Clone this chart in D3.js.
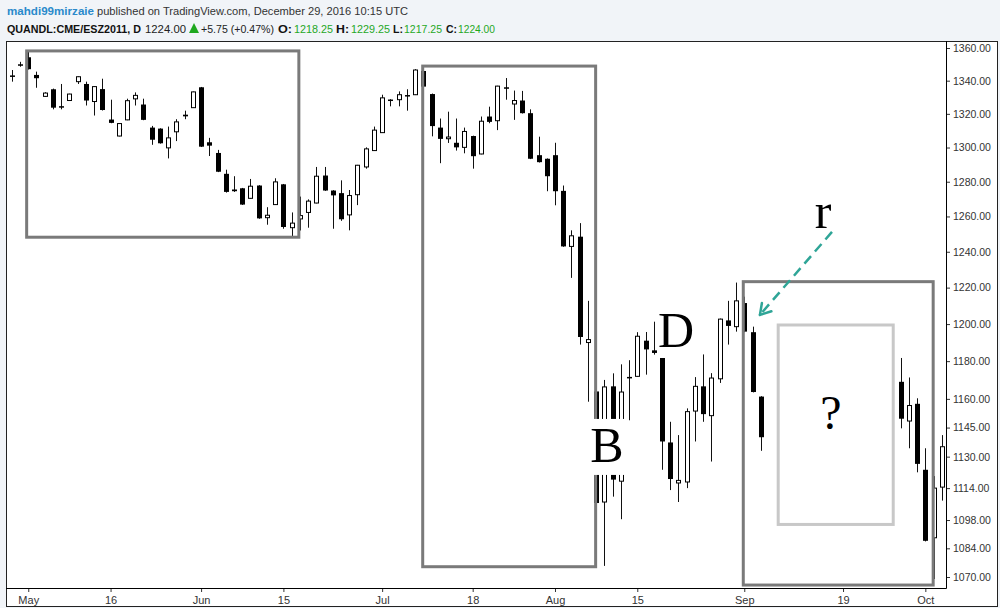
<!DOCTYPE html>
<html>
<head>
<meta charset="utf-8">
<script src="https://cdn.jsdelivr.net/npm/d3@7"></script>
<style>
body { margin: 0; background: #f1f4f8; }
svg { display: block; }
</style>
</head>
<body>
<svg id="chart" width="1000" height="608"></svg>
<script>
// trading sessions shown (2011), one per candle slot
var days = [
    "04-28", "04-29",
    "05-02", "05-03", "05-04", "05-05", "05-06", "05-09", "05-10", "05-11", "05-12", "05-13",
    "05-16", "05-17", "05-18", "05-19", "05-20", "05-23", "05-24", "05-25", "05-26", "05-27", "05-31",
    "06-01", "06-02", "06-03", "06-06", "06-07", "06-08", "06-09", "06-10", "06-13", "06-14", "06-15",
    "06-16", "06-17", "06-20", "06-21", "06-22", "06-23", "06-24", "06-27", "06-28", "06-29", "06-30",
    "07-01", "07-04", "07-05", "07-06", "07-07", "07-08", "07-11", "07-12", "07-13", "07-14", "07-15",
    "07-18", "07-19", "07-20", "07-21", "07-22", "07-25", "07-26", "07-27", "07-28", "07-29",
    "08-01", "08-02", "08-03", "08-04", "08-05", "08-08", "08-09", "08-10", "08-11", "08-12",
    "08-15", "08-16", "08-17", "08-18", "08-19", "08-22", "08-23", "08-24", "08-25", "08-26",
    "08-29", "08-30", "08-31",
    "09-01", "09-02", "09-05", "09-06", "09-07", "09-08", "09-09", "09-12", "09-13", "09-14",
    "09-15", "09-16", "09-19", "09-20", "09-21", "09-22", "09-23", "09-26", "09-27", "09-28",
    "09-29", "09-30",
    "10-03", "10-04", "10-05"
];

// OHLC per session, null where the candle is hidden on the chart
var opens = [
    1343.2, 1350.0, 1354.3, 1343.5, 1330.5, 1334.8, 1324.6, 1328.0, 1339.4, 1338.0,
    1327.4, 1334.9, 1316.6, 1306.8, 1316.4, 1329.0, 1325.6, 1311.8, 1311.2, 1299.8,
    1309.3, 1318.8, 1323.7, 1336.0, 1303.1, 1296.8, 1284.6, 1275.5, 1276.2, 1270.4,
    1277.8, 1259.3, 1266.8, 1278.5, 1253.6, 1258.6, 1262.3, 1267.7, 1283.6, 1274.9,
    1273.4, 1260.9, 1272.5, 1288.6, 1298.2, 1308.8, 1328.6, 1328.5, 1331.3, 1331.5,
    1345.9, 1331.9, 1311.8, 1305.2, 1302.8, 1300.1, 1306.8, 1296.2, 1318.4, 1315.9,
    1336.0, 1325.9, 1328.0, 1320.4, 1295.5, 1293.4, 1295.5, 1274.7, 1243.0, 1248.5,
    1190.0, 1163.9, 1107.0, 1166.6, 1117.5, 1171.6, 1171.9, 1191.0, 1185.8, 1184.4,
    1137.3, 1116.6, 1117.1, 1153.6, 1166.6, 1151.2, 1170.6, 1202.0, 1198.6, 1211.5,
    1195.6, 1161.2, null, null, null, null, null, null, null, null,
    null, null, null, null, null, null, null, null, 1169.0, 1148.4,
    1157.4, 1123.3, 1089.2, 1114.5
];
var highs = [
    1346.5, 1351.5, 1357.7, 1345.5, 1333.0, 1335.2, 1338.0, 1332.1, 1342.6, 1339.4,
    1336.6, 1341.2, 1328.5, 1314.4, 1329.1, 1332.9, 1329.1, 1312.8, 1311.4, 1312.4,
    1316.8, 1321.9, 1333.4, 1336.2, 1305.7, 1298.6, 1287.0, 1283.2, 1276.4, 1281.6,
    1278.0, 1265.3, 1282.0, 1278.7, 1262.3, 1271.4, 1269.8, 1288.6, 1288.6, 1275.1,
    1280.8, 1275.2, 1289.8, 1300.1, 1312.4, 1331.5, 1328.8, 1333.5, 1334.8, 1347.0,
    1346.5, 1332.2, 1317.2, 1321.3, 1317.2, 1311.8, 1307.0, 1318.4, 1324.3, 1336.9,
    1341.6, 1334.0, 1333.8, 1322.7, 1306.4, 1293.6, 1302.8, 1277.8, 1252.1, 1256.2,
    1212.7, 1183.3, 1170.0, 1173.5, 1178.3, 1180.5, 1195.6, 1195.7, 1201.3, 1185.0,
    1148.0, 1141.1, 1155.0, 1171.5, 1183.6, 1173.6, 1203.0, 1212.7, 1222.8, 1215.0,
    1198.6, 1161.4, null, null, null, null, null, null, null, null,
    null, null, null, null, null, null, null, null, 1181.7, 1171.3,
    1160.3, 1134.3, 1120.1, 1141.1
];
var lows = [
    1339.4, 1348.5, 1346.8, 1335.7, 1330.2, 1322.7, 1322.7, 1327.8, 1338.0, 1325.0,
    1319.0, 1322.0, 1314.4, 1306.6, 1316.2, 1325.0, 1316.2, 1301.6, 1302.3, 1293.6,
    1303.8, 1316.8, 1323.5, 1300.3, 1295.0, 1285.6, 1273.7, 1274.1, 1266.6, 1270.2,
    1258.7, 1255.3, 1266.6, 1253.0, 1248.5, 1252.0, 1253.6, 1267.5, 1274.7, 1253.0,
    1257.5, 1252.1, 1266.5, 1287.6, 1298.0, 1308.6, 1324.5, 1324.5, 1321.9, 1331.3,
    1324.5, 1306.6, 1290.8, 1302.7, 1298.2, 1296.6, 1287.6, 1296.0, 1314.4, 1310.3,
    1328.5, 1316.4, 1320.2, 1293.2, 1291.2, 1274.5, 1266.4, 1242.8, 1225.4, 1188.9,
    1158.5, 1104.0, 1075.4, 1109.7, 1098.4, 1148.8, 1171.7, 1172.8, 1183.5, 1123.3,
    1113.0, 1107.0, 1114.0, 1137.8, 1148.0, 1127.5, 1168.4, 1188.9, 1195.9, 1195.6,
    1163.4, 1133.0, null, null, null, null, null, null, null, null,
    null, null, null, null, null, null, null, null, 1144.6, 1134.3,
    1122.0, 1087.4, 1069.0, 1107.7
];
var closes = [
    1343.0, 1349.5, 1347.0, 1341.5, 1332.5, 1323.7, 1324.0, 1331.9, 1342.4, 1328.0,
    1336.4, 1322.3, 1314.6, 1314.2, 1327.9, 1331.1, 1316.4, 1304.6, 1302.5, 1305.7,
    1315.2, 1319.2, 1333.2, 1300.5, 1301.1, 1285.8, 1274.1, 1274.5, 1266.8, 1277.4,
    1258.9, 1260.7, 1279.9, 1254.0, 1256.2, 1260.5, 1268.8, 1283.2, 1274.9, 1272.1,
    1258.4, 1272.0, 1289.6, 1299.2, 1310.3, 1329.6, 1328.5, 1331.5, 1331.0, 1346.5,
    1336.4, 1312.7, 1305.1, 1306.2, 1300.1, 1309.5, 1294.9, 1315.6, 1315.2, 1336.7,
    1335.5, 1328.0, 1320.4, 1293.4, 1291.4, 1283.2, 1274.5, 1243.0, 1249.0, 1193.0,
    1191.6, 1106.5, 1166.3, 1118.3, 1163.6, 1171.0, 1193.4, 1186.3, 1184.4, 1137.8,
    1118.6, 1117.9, 1153.3, 1166.6, 1152.0, 1171.0, 1202.7, 1199.0, 1212.7, 1195.9,
    1163.6, 1140.0, null, null, null, null, null, null, null, null,
    null, null, null, null, null, null, null, null, 1149.6, 1156.5,
    1126.3, 1087.7, 1114.0, 1135.1
];

var xTickDays = ["05-02", "05-16", "06-01", "06-15", "07-01", "07-18", "08-01", "08-15", "09-01", "09-19", "10-03"];
var xTickLabels = ["May", "16", "Jun", "15", "Jul", "18", "Aug", "15", "Sep", "19", "Oct"];
var yTicks = [1360, 1340, 1320, 1300, 1280, 1260, 1240, 1220, 1200, 1180, 1160, 1145, 1130, 1114, 1098, 1084, 1070];

// drawn boxes: first/last session, top/bottom price
var boxes = [
    { from: "05-02", to: "06-17", top: 1358.2, bottom: 1248.2, dx0: -1.6, dx1: -1, color: "#7a7a7a" },
    { from: "07-08", to: "08-08", top: 1348.9, bottom: 1075.0, dx0: -0.6, dx1: -0.5, color: "#7a7a7a" },
    { from: "09-01", to: "10-04", top: 1223.3, bottom: 1066.1, dx0: -1, dx1: -0.4, color: "#7a7a7a" },
    { from: "09-07", to: "09-27", top: 1199.5, bottom: 1095.8, dx0: 1, dx1: 0.8, color: "#c8c8c8" }
];

var plot = { left: 6, top: 41, right: 946, bottom: 588 };

var svg = d3.select("#chart");

var x = d3.scalePoint()
    .domain(days)
    .range([11.8, 941.8]);

var y = d3.scaleLog()
    .domain([1070, 1360])
    .range([577, 48]);

// header
var head = svg.append("g")
    .style("font-family", "'Liberation Sans', Arial, sans-serif");

function headText(str, px, py, len, color, bold, size) {
    head.append("text")
        .attr("x", px)
        .attr("y", py)
        .attr("textLength", len)
        .attr("lengthAdjust", "spacingAndGlyphs")
        .attr("fill", color)
        .style("font-size", (size || 11.5) + "px")
        .style("font-weight", bold ? "bold" : "normal")
        .text(str);
}

var green = "#1fa81f";
headText("mahdi99mirzaie", 7, 15, 87, "#2a8acb", true);
headText("published on TradingView.com, December 29, 2016 10:15 UTC", 97, 15, 311, "#333", false);
headText("QUANDL:CME/ESZ2011, D", 7, 33, 134, "#111", true, 10.4);
headText("1224.00", 145, 33, 41, "#222", false, 11);
head.append("path")
    .attr("d", "M189,33 L199,33 L194,23 Z")
    .attr("fill", green);
headText("+5.75 (+0.47%)", 201, 33, 73, "#222", false, 10.4);
headText("O:", 278, 33, 14, "#111", true);
headText("1218.25", 294, 33, 39, green, false);
headText("H:", 336, 33, 13, "#111", true);
headText("1229.25", 351, 33, 39, green, false);
headText("L:", 393, 33, 10, "#111", true);
headText("1217.25", 404, 33, 38, green, false);
headText("C:", 446, 33, 11, "#111", true);
headText("1224.00", 458, 33, 37, green, false);

// chart frame
svg.append("rect")
    .attr("x", plot.left + 0.5)
    .attr("y", plot.top + 0.5)
    .attr("width", 991)
    .attr("height", 565)
    .attr("fill", "#fff")
    .attr("stroke", "#222");

// candles
var candles = days.map(function(d, k) {
    return { day: d, o: opens[k], h: highs[k], l: lows[k], c: closes[k] };
}).filter(function(d) { return d.o != null; });

var cg = svg.append("g").attr("class", "candles");

cg.selectAll("line.wick")
    .data(candles)
    .enter().append("line")
    .attr("class", "wick")
    .attr("x1", function(d) { return Math.round(x(d.day)) + 0.5; })
    .attr("x2", function(d) { return Math.round(x(d.day)) + 0.5; })
    .attr("y1", function(d) { return y(d.h); })
    .attr("y2", function(d) { return y(d.l); })
    .attr("stroke", "#111")
    .attr("stroke-width", 1);

cg.selectAll("rect.down")
    .data(candles.filter(function(d) { return d.c < d.o; }))
    .enter().append("rect")
    .attr("class", "down")
    .attr("x", function(d) { return Math.round(x(d.day)) - 2; })
    .attr("width", 5)
    .attr("y", function(d) { return y(d.o); })
    .attr("height", function(d) { return Math.max(1.5, y(d.c) - y(d.o)); })
    .attr("fill", "#000");

cg.selectAll("rect.up")
    .data(candles.filter(function(d) { return d.c >= d.o; }))
    .enter().append("rect")
    .attr("class", "up")
    .attr("x", function(d) { return Math.round(x(d.day)) - 1.5; })
    .attr("width", 4)
    .attr("y", function(d) { return y(d.c); })
    .attr("height", function(d) { return Math.max(0.5, y(d.o) - y(d.c)); })
    .attr("fill", "#fff")
    .attr("stroke", "#000")
    .attr("stroke-width", 1);

// boxes
svg.append("g").selectAll("rect")
    .data(boxes)
    .enter().append("rect")
    .attr("x", function(d) { return x(d.from) + d.dx0; })
    .attr("y", function(d) { return y(d.top); })
    .attr("width", function(d) { return (x(d.to) + d.dx1) - (x(d.from) + d.dx0); })
    .attr("height", function(d) { return y(d.bottom) - y(d.top); })
    .attr("fill", "none")
    .attr("stroke", function(d) { return d.color; })
    .attr("stroke-width", 3);

// letters with white backing
function letter(str, day, dx, price, size, pad) {
    var t = svg.append("text")
        .attr("x", x(day) + dx)
        .attr("y", y(price))
        .attr("text-anchor", "middle")
        .style("font-family", "'Liberation Serif', 'DejaVu Serif', serif")
        .style("font-size", size + "px")
        .attr("fill", "#000")
        .text(str);
    if (pad) {
        var bb = t.node().getBBox();
        svg.insert("rect", function() { return t.node(); })
            .attr("x", bb.x - pad[0])
            .attr("y", bb.y + pad[1])
            .attr("width", bb.width + 2 * pad[0])
            .attr("height", bb.height + pad[2])
            .attr("fill", "#fff");
    }
}

letter("B", "08-09", 2.6, 1127.3, 50, [2, 2, 0]);
letter("D", "08-22", -2.5, 1187.6, 50, [0, 4, -4]);
letter("?", "09-15", 4.4, 1144.3, 48, null);
letter("r", "09-15", -3.5, 1253.4, 50, null);

// dashed arrow to the r candle
var a0 = [x("09-15") + 5.4, y(1251.2)];
var a1 = [x("09-05") - 0.8, y(1205.0)];
var ang = Math.atan2(a0[1] - a1[1], a0[0] - a1[0]);
var arrowColor = "#2fa597";
svg.append("line")
    .attr("x1", a0[0]).attr("y1", a0[1])
    .attr("x2", a1[0] + 3 * Math.cos(ang)).attr("y2", a1[1] + 3 * Math.sin(ang))
    .attr("stroke", arrowColor)
    .attr("stroke-width", 2.5)
    .attr("stroke-dasharray", "10,6");
[-0.55, 0.55].forEach(function(da) {
    svg.append("line")
        .attr("x1", a1[0]).attr("y1", a1[1])
        .attr("x2", a1[0] + 12 * Math.cos(ang + da))
        .attr("y2", a1[1] + 12 * Math.sin(ang + da))
        .attr("stroke", arrowColor)
        .attr("stroke-width", 2.5)
        .attr("stroke-linecap", "round");
});

// axes
var xAxis = d3.axisBottom(x)
    .tickValues(xTickDays)
    .tickFormat(function(d, i) { return xTickLabels[i]; })
    .tickSizeInner(4)
    .tickSizeOuter(0);

var gx = svg.append("g")
    .attr("class", "x axis")
    .attr("transform", "translate(0," + plot.bottom + ")")
    .call(xAxis);
gx.select(".domain").remove();
gx.selectAll("text")
    .attr("y", 8)
    .style("font-family", "'Liberation Sans', Arial, sans-serif")
    .style("font-size", "11px")
    .attr("fill", "#333");
gx.selectAll("line").attr("stroke", "#333");

var yAxis = d3.axisRight(y)
    .tickValues(yTicks)
    .tickFormat(d3.format(".2f"))
    .tickSizeInner(4)
    .tickSizeOuter(0);

var gy = svg.append("g")
    .attr("class", "y axis")
    .attr("transform", "translate(" + plot.right + ",0)")
    .call(yAxis);
gy.select(".domain").remove();
gy.selectAll("text")
    .attr("x", 7)
    .style("font-family", "'Liberation Sans', Arial, sans-serif")
    .style("font-size", "10.5px")
    .attr("fill", "#333");
gy.selectAll("line").attr("stroke", "#333");

svg.append("line")
    .attr("x1", plot.left).attr("x2", plot.right + 0.5)
    .attr("y1", plot.bottom + 0.5).attr("y2", plot.bottom + 0.5)
    .attr("stroke", "#000");
svg.append("line")
    .attr("x1", plot.right + 0.5).attr("x2", plot.right + 0.5)
    .attr("y1", plot.top).attr("y2", plot.bottom + 0.5)
    .attr("stroke", "#000");
</script>
</body>
</html>
